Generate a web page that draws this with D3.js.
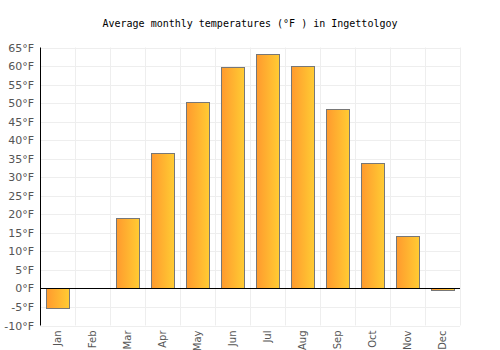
<!DOCTYPE html>
<html><head><meta charset="utf-8">
<script src="https://cdn.jsdelivr.net/npm/d3@7"></script>
<style>body{margin:0;background:#fff}</style>
</head><body>
<svg id="c" width="500" height="350"></svg>
<script>
const months = ["Jan","Feb","Mar","Apr","May","Jun","Jul","Aug","Sep","Oct","Nov","Dec"];
const temps = [-5.2, 0, 18.9, 36.5, 50.3, 59.7, 63.2, 59.9, 48.3, 33.8, 14.1, -0.4];
const yTicks = [-10,-5,0,5,10,15,20,25,30,35,40,45,50,55,60,65];
const title = "Average monthly temperatures (°F ) in Ingettolgoy";

const svg = d3.select("#c");
const L = 40, R = 460, T = 47.5, B = 325.5;
const x = d3.scaleBand().domain(months).range([L, R]).paddingInner(0.34).paddingOuter(0.17);
const xg = d3.scaleBand().domain(months).range([L, R]);
const y = d3.scaleLinear().domain([-10, 65]).range([B, T]);

const defs = svg.append("defs");
const g = defs.append("linearGradient").attr("id","gr").attr("x1","0%").attr("x2","100%");
g.append("stop").attr("offset","0%").attr("stop-color","#ff9a2e");
g.append("stop").attr("offset","100%").attr("stop-color","#ffcc33");

// grid
svg.append("g").selectAll("line").data(yTicks).join("line")
  .attr("x1", L).attr("x2", R).attr("y1", d => Math.round(y(d))+0.5).attr("y2", d => Math.round(y(d))+0.5)
  .attr("stroke", "#eeeeee");
svg.append("g").selectAll("line").data(months).join("line")
  .attr("x1", d => Math.round(xg(d)+xg.bandwidth())+0.5).attr("x2", d => Math.round(xg(d)+xg.bandwidth())+0.5)
  .attr("y1", T).attr("y2", B).attr("stroke", "#eeeeee");

// bars
svg.append("g").selectAll("rect").data(temps).join("rect")
  .attr("x", (d,i) => Math.round(x(months[i]))+0.5)
  .attr("width", Math.round(x.bandwidth()))
  .attr("y", d => Math.round(y(Math.max(0,d)))+0.5)
  .attr("height", d => Math.abs(Math.round(y(d)) - Math.round(y(0))))
  .attr("fill", "url(#gr)").attr("stroke", "#777777").attr("stroke-width", 1);

// zero line
svg.append("line").attr("x1", L).attr("x2", R)
  .attr("y1", Math.round(y(0))+0.5).attr("y2", Math.round(y(0))+0.5).attr("stroke", "#000");
// y axis line
svg.append("line").attr("x1", L+0.5).attr("x2", L+0.5).attr("y1", T).attr("y2", B).attr("stroke", "#000");

// y labels
svg.append("g").selectAll("text").data(yTicks).join("text")
  .attr("x", L-6).attr("y", d => y(d)+4).attr("text-anchor","end")
  .attr("font-family","DejaVu Sans, sans-serif").attr("font-size","11px").attr("fill","#555")
  .text(d => d + "°F");

// x labels
svg.append("g").selectAll("text").data(months).join("text")
  .attr("transform", d => `translate(${xg(d)+xg.bandwidth()/2+3.5},${B+5}) rotate(-90)`)
  .attr("text-anchor","end")
  .attr("font-family","DejaVu Sans, sans-serif").attr("font-size","10px").attr("fill","#555")
  .text(d => d);

// title
svg.append("text").attr("x", 250).attr("y", 27).attr("text-anchor","middle")
  .attr("font-family","DejaVu Sans Mono, monospace").attr("font-size","10px").attr("fill","#000")
  .text(title);
</script>
</body></html>
